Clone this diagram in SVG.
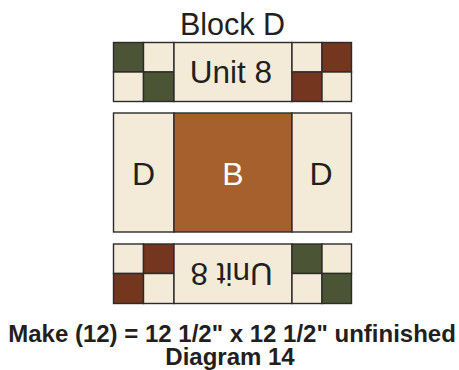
<svg xmlns="http://www.w3.org/2000/svg" width="459" height="370" viewBox="0 0 459 370">
<style>
.c{fill:#f3ebd8}
.g{fill:#4b5434}
.r{fill:#74361f}
.b{fill:#a6602e}
.p rect{stroke:#2b2b2b;stroke-width:1.4}
.t{font-family:"Liberation Sans",Arial,sans-serif;fill:#231f20;text-anchor:middle}
.f{font-family:"Liberation Sans",Arial,sans-serif;font-weight:bold;fill:#231f20;text-anchor:middle;font-size:24px}
</style>
<rect width="459" height="370" fill="#fff"/>
<g id="title"><text class="t" x="232.5" y="34.5" font-size="30.5">Block D</text></g>
<g id="unit8-top" class="p">
<rect class="g" x="113.5" y="42.5" width="30" height="29.5"/>
<rect class="c" x="143.5" y="42.5" width="30.5" height="29.5"/>
<rect class="c" x="113.5" y="72" width="30" height="29.5"/>
<rect class="g" x="143.5" y="72" width="30.5" height="29.5"/>
<rect class="c" x="174" y="42.5" width="118" height="59"/>
<rect class="c" x="292" y="42.5" width="30" height="29.5"/>
<rect class="r" x="322" y="42.5" width="29.5" height="29.5"/>
<rect class="r" x="292" y="72" width="30" height="29.5"/>
<rect class="c" x="322" y="72" width="29.5" height="29.5"/>
<text class="t" x="231" y="83.3" font-size="31.5">Unit 8</text>
</g>
<g id="middle" class="p">
<rect class="c" x="113.5" y="113" width="60.5" height="119"/>
<rect class="b" x="174" y="113" width="118" height="119"/>
<rect class="c" x="292" y="113" width="59.5" height="119"/>
<text class="t" x="143.5" y="185" font-size="32">D</text>
<text class="t" x="233" y="185" font-size="32" style="fill:#fff">B</text>
<text class="t" x="321" y="185" font-size="32">D</text>
</g>
<g id="unit8-bottom" class="p">
<rect class="c" x="113.5" y="244" width="30" height="29.5"/>
<rect class="r" x="143.5" y="244" width="30.5" height="29.5"/>
<rect class="r" x="113.5" y="273.5" width="30" height="30"/>
<rect class="c" x="143.5" y="273.5" width="30.5" height="30"/>
<rect class="c" x="174" y="244" width="118" height="59.5"/>
<rect class="g" x="292" y="244" width="30" height="29.5"/>
<rect class="c" x="322" y="244" width="29.5" height="29.5"/>
<rect class="c" x="292" y="273.5" width="30" height="30"/>
<rect class="g" x="322" y="273.5" width="29.5" height="30"/>
<text class="t" x="231.5" y="285.5" font-size="31.5" transform="rotate(180 231.5 274)">Unit 8</text>
</g>
<g id="caption">
<text class="f" x="232" y="341.5">Make (12) = 12 1/2" x 12 1/2" unfinished</text>
<text class="f" x="230" y="365">Diagram 14</text>
</g>
</svg>
